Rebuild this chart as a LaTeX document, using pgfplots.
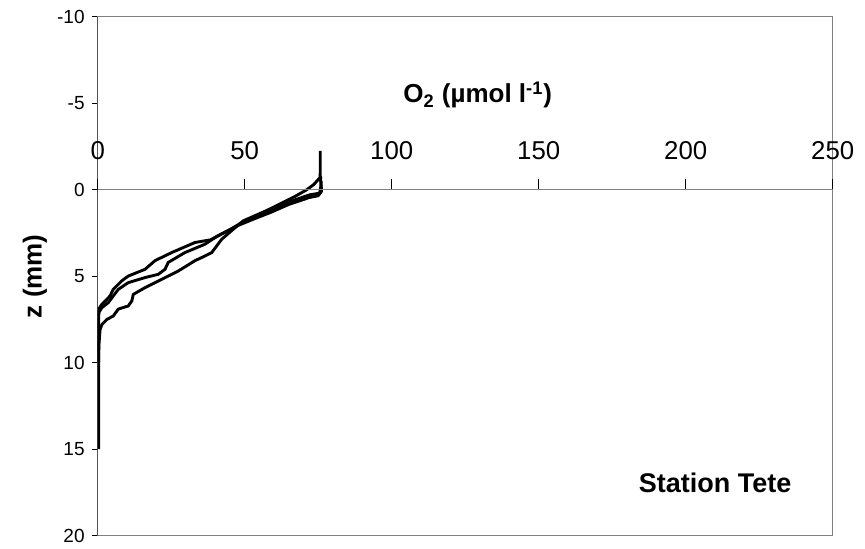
\documentclass[border=0pt]{standalone}
\usepackage{fontspec}
\setmainfont{Liberation Sans}
\usepackage{pgfplots}
\pgfplotsset{compat=1.18}

\definecolor{framegray}{RGB}{128,128,128}

\begin{document}
\begin{tikzpicture}
\pgfplotsset{
  profile/.style={black, line width=1.45pt, line join=round, no markers},
  common/.style={
    at={(0,0)}, anchor=south west, scale only axis,
    width=367.5pt, height=259.5pt,
    xmin=0, xmax=250,
    /pgf/number format/assume math mode=true,
  },
}
% frame, depth axis and the three O2 profiles
\begin{axis}[common,
  ymin=-10, ymax=20, y dir=reverse,
  axis line style={draw=framegray, line width=0.75pt},
  xtick=\empty,
  ytick={-10,-5,...,20}, ytick pos=left, ytick align=outside,
  major tick length=3pt,
  y tick style={black, line width=0.6pt},
  yticklabel style={font=\fontsize{9.5}{11}\selectfont},
  ylabel={\textbf{z (mm)}},
  ylabel style={at={(axis description cs:-0.0853,0.5)}, anchor=center,
    font=\fontsize{13}{15}\selectfont},
]
\addplot[profile] coordinates {
  (75.7,-2.25) (75.7,-1.0) (75.6,-0.7) (73.5,-0.3) (71.1,0.0) (67,0.4)
  (63.1,0.73) (57.5,1.2) (49.5,1.8) (46.7,2.2) (42.2,2.86) (38.8,3.63)
  (36.5,3.83) (33.1,4.1) (27.4,4.7) (21.8,5.18) (16.1,5.66) (12.1,6.05)
  (11.6,6.43) (10.4,6.72) (7,6.9) (5.3,7.3) (3.1,7.5) (1.4,7.8) (0.8,8.1)
  (0.4,9) (0.3,10) (0.3,12) (0.3,15)
};
\addplot[profile] coordinates {
  (75.8,-0.8) (75.9,-0.2) (75.5,0.2) (72,0.3) (66,0.65) (60,1.1) (54,1.5)
  (48,2.0) (45,2.3) (40.5,2.7) (36.5,3.15) (29.7,3.63) (24,4.2) (22.9,4.6)
  (20.6,4.89) (16.1,5.08) (10.4,5.37) (7,5.76) (5.3,6.14) (3.6,6.53)
  (1.4,6.82) (0.4,7.1) (0.3,7.6) (0.3,10)
};
\addplot[profile] coordinates {
  (76,-0.5) (76.1,0.1) (75,0.35) (72,0.45) (65,0.85) (59,1.3) (53,1.7)
  (48,2.05) (44,2.4) (38.3,2.9) (33.1,3.05) (25.2,3.63) (19.5,4.1)
  (16.1,4.6) (10.4,4.99) (8.2,5.27) (5.3,5.76) (4.2,6.14) (3.1,6.34)
  (1.4,6.63) (0.3,6.9) (0.2,8) (0.2,10)
};
\draw[black, line width=0.75pt] (axis description cs:0,0) -- (axis description cs:0,1);
\node[font=\fontsize{13}{15}\selectfont\bfseries] at (axis description cs:0.517,0.849)
  {O\textsubscript{2} (µmol l\textsuperscript{-1})};
\node[font=\fontsize{13.5}{15}\selectfont\bfseries] at (axis description cs:0.84,0.1015)
  {Station Tete};
\end{axis}
% concentration axis running along z = 0 (same box, upward ticks)
\begin{axis}[common,
  ymin=-20, ymax=10,
  axis x line=middle, axis y line=none,
  x axis line style={draw=framegray, line width=0.75pt, -},
  xtick={0,50,...,250}, ytick=\empty,
  xtick align=inside,
  major tick length=5.3pt,
  x tick style={black, line width=0.6pt},
  xticklabel style={font=\fontsize{12.9}{15}\selectfont, anchor=south, yshift=11.5pt},
]
\end{axis}
\pgfresetboundingbox
\path[use as bounding box] (-48.85pt,-6.15pt) rectangle (383.65pt,267.85pt);
\end{tikzpicture}
\end{document}
